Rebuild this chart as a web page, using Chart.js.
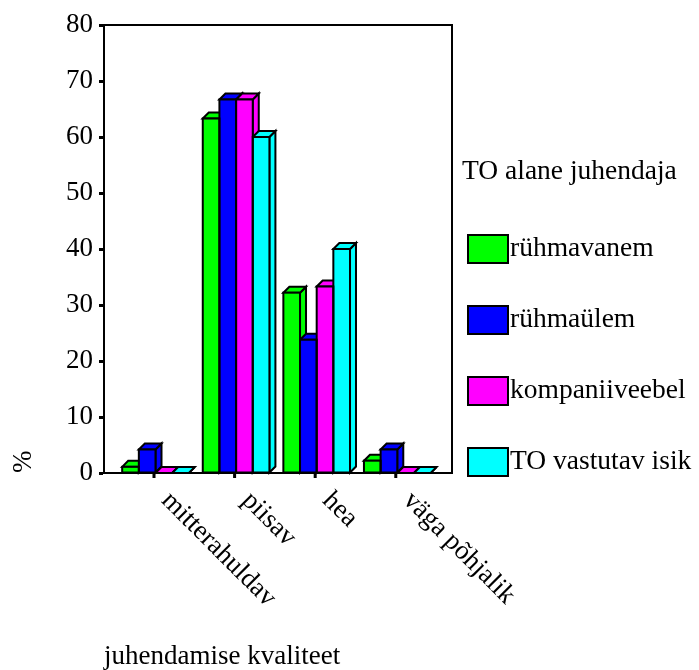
<!DOCTYPE html>
<html lang="et">
<head>
<meta charset="UTF-8" />
<title>juhendamise kvaliteet</title>
<script src="https://cdn.jsdelivr.net/npm/chart.js"></script>
<style>
  html, body { margin: 0; padding: 0; background: #fff; }
  canvas { display: block; }
</style>
</head>
<body>
<canvas id="chart" width="699" height="670"></canvas>
<script>
// andmed
const categories = ['mitterahuldav', 'piisav', 'hea', 'väga põhjalik'];
const seriesNames = ['rühmavanem', 'rühmaülem', 'kompaniiveebel', 'TO vastutav isik'];
const ruhmavanem = [1.1, 63.3, 32.2, 2.2];
const ruhmaulem = [4.2, 66.7, 23.8, 4.2];
const kompaniiveebel = [0, 66.7, 33.3, 0];
const toVastutav = [0, 60, 40, 0];
const yTicks = [0, 10, 20, 30, 40, 50, 60, 70, 80];
const colors = ['#00ff00', '#0000ff', '#ff00ff', '#00ffff'];

const FONT = "'Liberation Serif', 'Times New Roman', serif";
const FS = 27;
const DEPTH = 6;

const values = [ruhmavanem, ruhmaulem, kompaniiveebel, toVastutav];
const datasets = values.map((vals, i) => ({
  label: seriesNames[i],
  data: vals.map((v, k) => ({ x: k, y: v })),
  backgroundColor: colors[i],
  borderWidth: 0,
  barPercentage: 1,
  categoryPercentage: 0.827
}));

function poly(ctx, pts) {
  ctx.beginPath();
  ctx.moveTo(pts[0][0], pts[0][1]);
  for (let i = 1; i < pts.length; i++) ctx.lineTo(pts[i][0], pts[i][1]);
  ctx.closePath();
  ctx.fill();
  ctx.stroke();
}

// 3D tahud: ülemine ja parem külg enne, esikülje kontuur pärast
const bars3d = {
  id: 'bars3d',
  beforeDatasetsDraw(chart) {
    const ctx = chart.ctx;
    ctx.save();
    ctx.lineWidth = 2;
    ctx.strokeStyle = '#000';
    chart.data.datasets.forEach((ds, di) => {
      chart.getDatasetMeta(di).data.forEach(bar => {
        const { x, y, base, width } = bar.getProps(['x', 'y', 'base', 'width'], true);
        const l = x - width / 2, r = x + width / 2;
        ctx.fillStyle = ds.backgroundColor;
        poly(ctx, [[r, y], [r + DEPTH, y - DEPTH], [r + DEPTH, base - DEPTH], [r, base]]);
        poly(ctx, [[l, y], [l + DEPTH, y - DEPTH], [r + DEPTH, y - DEPTH], [r, y]]);
      });
    });
    ctx.restore();
  },
  afterDatasetsDraw(chart) {
    const ctx = chart.ctx;
    ctx.save();
    ctx.lineWidth = 2;
    ctx.strokeStyle = '#000';
    chart.data.datasets.forEach((ds, di) => {
      chart.getDatasetMeta(di).data.forEach(bar => {
        const { x, y, base, width } = bar.getProps(['x', 'y', 'base', 'width'], true);
        ctx.strokeRect(x - width / 2, y, width, base - y);
      });
    });
    ctx.restore();
  }
};

// raam, x-telje märgid ja pööratud sildid, legend
const decor = {
  id: 'decor',
  afterDraw(chart) {
    const ctx = chart.ctx;
    const a = chart.chartArea;
    const xs = chart.scales.x;
    ctx.save();
    ctx.strokeStyle = '#000';
    ctx.lineWidth = 2;
    ctx.strokeRect(a.left, a.top, a.right - a.left, a.bottom - a.top);

    ctx.fillStyle = '#000';
    ctx.font = FS + 'px ' + FONT;
    categories.forEach((c, i) => {
      const px = xs.getPixelForValue(i) - 1.5;
      ctx.fillRect(px - 1.5, a.bottom, 3, 5);
      ctx.save();
      ctx.translate(px + 21, a.bottom + 14);
      ctx.rotate(Math.PI / 4);
      ctx.textAlign = 'left';
      ctx.textBaseline = 'top';
      ctx.fillText(c, 0, 0);
      ctx.restore();
    });

    ctx.textAlign = 'left';
    ctx.textBaseline = 'middle';
    ctx.fillText('juhendamise kvaliteet', 104, 657);

    // legend
    ctx.font = '27.5px ' + FONT;
    ctx.fillText('TO alane juhendaja', 462, 172);
    chart.data.datasets.forEach((ds, i) => {
      const cy = 249 + i * 71;
      ctx.fillStyle = ds.backgroundColor;
      ctx.fillRect(468, cy - 14, 40, 28);
      ctx.strokeRect(468, cy - 14, 40, 28);
      ctx.fillStyle = '#000';
      ctx.fillText(ds.label, 510, cy);
    });
    ctx.restore();
  }
};

new Chart(document.getElementById('chart'), {
  type: 'bar',
  data: { datasets },
  options: {
    responsive: false,
    animation: false,
    layout: { padding: { left: 0, top: 25, right: 247, bottom: 197 } },
    plugins: { legend: { display: false }, tooltip: { enabled: false } },
    scales: {
      x: {
        type: 'linear',
        display: false,
        offset: false,
        min: -0.639,
        max: 3.679,
        ticks: { stepSize: 1, includeBounds: false }
      },
      y: {
        min: yTicks[0],
        max: yTicks[yTicks.length - 1],
        afterFit: s => { s.width = 104; },
        afterBuildTicks: s => { s.ticks = yTicks.map(v => ({ value: v })); },
        border: { display: true, color: '#000', width: 2 },
        grid: { drawOnChartArea: false, drawTicks: true, tickLength: 5, tickWidth: 3, color: '#000' },
        ticks: { color: '#000', padding: 6, font: { family: FONT, size: FS } },
        title: {
          display: true, text: '%', align: 'start', color: '#000',
          padding: { top: 8, bottom: 0 },
          font: { family: FONT, size: FS }
        }
      }
    }
  },
  plugins: [bars3d, decor]
});
</script>
</body>
</html>
